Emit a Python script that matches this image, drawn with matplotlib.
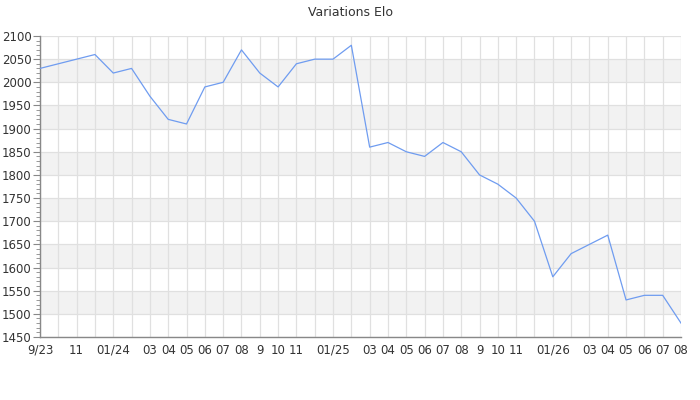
import matplotlib
matplotlib.use("Agg")
import matplotlib.pyplot as plt
from matplotlib.ticker import MultipleLocator

# one point per month, 9/23 .. 08/26
elo = [2030, 2040, 2050, 2060, 2020, 2030, 1970, 1920, 1910, 1990,
       2000, 2070, 2020, 1990, 2040, 2050, 2050, 2080, 1860, 1870,
       1850, 1840, 1870, 1850, 1800, 1780, 1750, 1700, 1580, 1630,
       1650, 1670, 1530, 1540, 1540, 1480]
tick_pos = [0, 2, 4, 6, 7, 8, 9, 10, 11, 12, 13, 14, 16, 18, 19, 20, 21,
            22, 23, 24, 25, 26, 28, 30, 31, 32, 33, 34, 35]
tick_labels = ["9/23", "11", "01/24", "03", "04", "05", "06", "07", "08",
               "9", "10", "11", "01/25", "03", "04", "05", "06", "07", "08",
               "9", "10", "11", "01/26", "03", "04", "05", "06", "07", "08"]
y_min, y_max = 1450, 2100

fig = plt.figure(figsize=(7, 4), dpi=100)
ax = fig.add_axes([40 / 700, 1 - 337 / 400, 641 / 700, 301 / 400])

# shaded horizontal bands
for lo in range(1500, 2100, 100):
    ax.axhspan(lo, lo + 50, color="#f2f2f2", zorder=0, lw=0)

months = list(range(len(elo)))
ax.plot(months, elo, color="#6f9cf0", lw=0.9, zorder=3)

ax.set_xlim(0, len(elo) - 1)
ax.set_ylim(y_min, y_max)
ax.set_xticks(months, minor=True)
ax.set_xticks(tick_pos)
ax.set_xticklabels(tick_labels)
ax.yaxis.set_major_locator(MultipleLocator(50))
ax.yaxis.set_minor_locator(MultipleLocator(10))

ax.grid(True, which="minor", axis="x", color="#e0e0e0", lw=0.9, zorder=1)
ax.grid(True, which="major", axis="both", color="#e0e0e0", lw=0.9, zorder=1)

for s in ["top", "right"]:
    ax.spines[s].set_visible(False)
for s in ["left", "bottom"]:
    ax.spines[s].set_color("#888888")
    ax.spines[s].set_linewidth(1)

ax.tick_params(axis="y", which="major", length=5, color="#888888",
               labelsize=8.5, labelcolor="#333333", pad=1)
ax.tick_params(axis="y", which="minor", length=3, color="#888888")
ax.tick_params(axis="x", which="both", length=0, labelsize=8.5,
               labelcolor="#333333", pad=5)

fig.suptitle("Variations Elo", y=0.985, fontsize=9, color="#333333")

fig.savefig("out.png", dpi=100)
